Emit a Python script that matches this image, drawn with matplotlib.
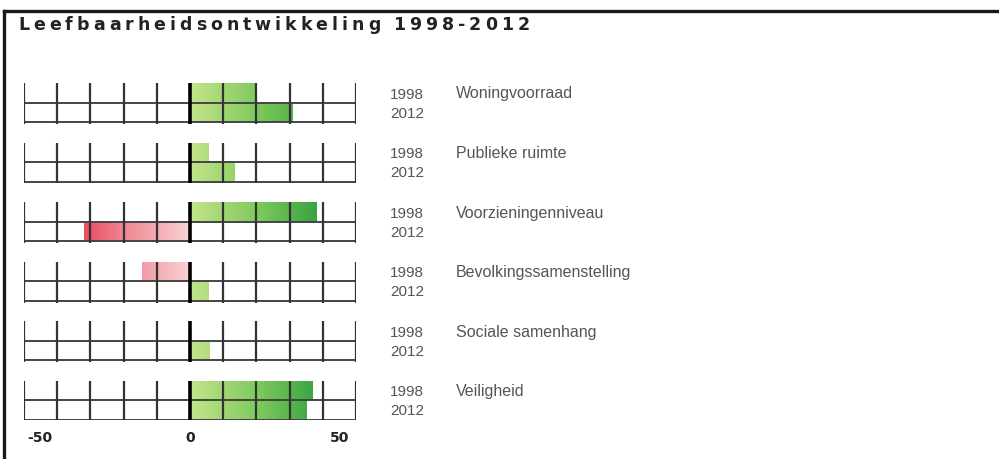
import numpy as np
import matplotlib
matplotlib.use("Agg")
import matplotlib.pyplot as plt
from matplotlib.colors import LinearSegmentedColormap
from matplotlib.lines import Line2D
from matplotlib.transforms import blended_transform_factory

# ----- data ---------------------------------------------------------------- #
categories = ["Woningvoorraad", "Publieke ruimte", "Voorzieningenniveau",
              "Bevolkingssamenstelling", "Sociale samenhang", "Veiligheid"]
score_1998 = [20, 5.5, 38, -14.5, 0, 37]
score_2012 = [31, 13.5, -32, 5.5, 6, 35]
years = ["1998", "2012"]
ticks = list(range(-50, 51, 10))
tick_labels = {-50: "-50", 0: "0", 50: "50"}
title = "Leefbaarheidsontwikkeling 1998-2012"

W, H = 999, 459
fig = plt.figure(figsize=(W / 100, H / 100), dpi=100)

# axes: -50 -> x=24px, 50 -> x=356px ; panels between y=83px and y=420px
ax = fig.add_axes([24 / W, 1 - 420 / H, (356 - 24) / W, (420 - 83) / H])
ax.axis("off")

h = 39 / 59.4          # panel height in panel-spacing units
half = h / 2
n = len(categories)

greens = LinearSegmentedColormap.from_list("g", ["#c4e58c", "#7cc95a", "#2a9a3c"])
reds = LinearSegmentedColormap.from_list("r", ["#f9d4d4", "#f08a96", "#e8304a"])
xs = np.linspace(-50, 50, 400)
grad = np.zeros((1, len(xs), 4))
pos = xs >= 0
grad[0, pos] = greens(np.clip(xs[pos] / 42, 0, 1))
grad[0, ~pos] = reds(np.clip(-xs[~pos] / 38, 0, 1))

tr = blended_transform_factory(fig.transFigure, ax.transData)
for i, cat in enumerate(categories):
    for j, val in enumerate([score_1998[i], score_2012[i]]):
        if val == 0:
            continue
        bar = ax.barh(i + j * half, val, left=0, height=half, align="edge",
                      color="none", lw=0)[0]
        im = ax.imshow(grad, extent=[-50, 50, i + j * half + half, i + j * half],
                       aspect="auto", interpolation="bilinear", zorder=1)
        im.set_clip_path(bar)

    # grid lines of the panel
    ax.hlines([i + half, i + h], -50, 50, color="#444444", lw=1.4, zorder=3)
    other = [t for t in ticks if t != 0]
    ax.vlines(other, i, i + h + 0.03, color="#333333", lw=1.6, zorder=3)
    ax.vlines([0], i, i + h + 0.03, color="#000000", lw=2.6, zorder=4)

    # labels on the right
    ax.text(390 / W, i + half / 2 + 0.03, years[0], transform=tr, ha="left",
            va="center", fontsize=11, family="Liberation Sans", color="#555555")
    ax.text(390 / W, i + 1.5 * half + 0.02, years[1], transform=tr, ha="left",
            va="center", fontsize=11, family="Liberation Sans", color="#555555")
    ax.text(456 / W, i + half / 2 + 0.02, cat, transform=tr, ha="left",
            va="center", fontsize=11.5, family="Liberation Sans", color="#555555")

ax.set_xlim(-50, 50)
ax.set_ylim(n - 1 + h, 0)

# bottom value labels
for v, lab in tick_labels.items():
    ha = "center"
    x = v
    if v == -50:
        ha, x = "left", -49
    elif v == 50:
        ha, x = "right", 48
    ax.text(x, n - 1 + h + 0.31, lab, ha=ha, va="center", fontsize=10,
            fontweight="bold", color="#222222", clip_on=False)

# frame lines (top and left only)
fig.add_artist(Line2D([4 / W, 1], [1 - 10.5 / H] * 2, transform=fig.transFigure,
                      color="#1a1a1a", lw=2.4))
fig.add_artist(Line2D([4 / W] * 2, [0, 1 - 10.5 / H], transform=fig.transFigure,
                      color="#1a1a1a", lw=2.4))

# title with wide letter spacing
renderer = fig.canvas.get_renderer()
cur = 18.0
for ch in title:
    if ch == " ":
        cur += 9
        continue
    t = fig.text(cur / W, 1 - 30 / H, ch, ha="left", va="baseline",
                 fontsize=12.5, fontweight="bold", color="#222222")
    cur += t.get_window_extent(renderer).width + 4.0

fig.savefig("out.png", dpi=100)
